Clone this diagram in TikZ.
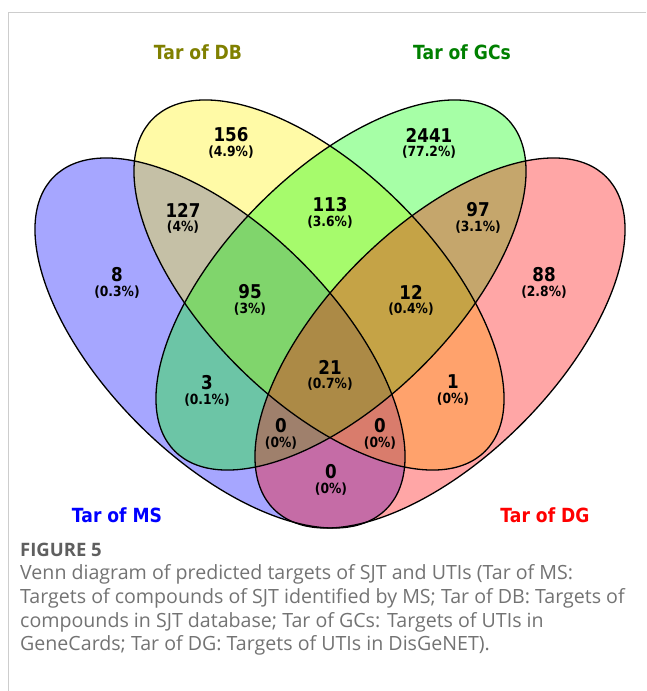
\documentclass[tikz,border=0pt]{standalone}
\usepackage{fontspec}
\setmainfont{Open Sans}
\newfontfamily\vennfont[FakeStretch=0.88]{DejaVu Sans}
\definecolor{dbcol}{RGB}{128,128,0}
\definecolor{gccol}{RGB}{0,128,0}
\definecolor{capgray}{RGB}{115,115,115}
\definecolor{figgray}{RGB}{95,95,95}
\definecolor{framegray}{RGB}{205,205,205}
\tikzset{
  vset/.style={fill opacity=0.35},
  vline/.style={draw=black, line width=1.3pt},
  msgeo/.style={shift={(220,-343)}, rotate=-45},
  dbgeo/.style={shift={(319,-285)}, rotate=-45},
  gcgeo/.style={shift={(341,-285)}, rotate=45},
  dggeo/.style={shift={(440,-343)}, rotate=45},
  catlab/.style={font=\vennfont\bfseries\fontsize{19.5}{20}\selectfont, inner sep=0pt},
  numst/.style={font=\vennfont\bfseries\fontsize{19}{19}\selectfont, inner sep=0pt},
  pctst/.style={font=\vennfont\bfseries\fontsize{14}{15}\selectfont, inner sep=0pt},
  capst/.style={font=\fontsize{19.6}{22}\selectfont, text=capgray, inner sep=0pt, anchor=base west},
}
\newcommand\reglab[5]{%
  \node[numst] (#1n) at (#2,{-#3}) {#4};
  \node[pctst] (#1p) at (#2,{-(#3+17)}) {#5};}
\begin{document}
\begin{tikzpicture}[x=1pt,y=1pt]
\useasboundingbox (0,0) rectangle (646,-691);
\fill[white] (0,0) rectangle (646,-691);
\draw[framegray, line width=1pt] (646,-12) -- (8,-12) -- (8,-691);

% fills
\fill[blue, vset, msgeo] (0,0) ellipse [x radius=235pt, y radius=115pt];
\fill[yellow, vset, dbgeo] (0,0) ellipse [x radius=235pt, y radius=115pt];
\fill[green, vset, gcgeo] (0,0) ellipse [x radius=235pt, y radius=115pt];
\fill[red, vset, dggeo] (0,0) ellipse [x radius=235pt, y radius=115pt];
% outlines
\draw[vline, msgeo] (0,0) ellipse [x radius=235pt, y radius=115pt];
\draw[vline, dbgeo] (0,0) ellipse [x radius=235pt, y radius=115pt];
\draw[vline, gcgeo] (0,0) ellipse [x radius=235pt, y radius=115pt];
\draw[vline, dggeo] (0,0) ellipse [x radius=235pt, y radius=115pt];

% category labels
\node[catlab, text=dbcol] (catdb) at (198,-52) {Tar of DB};
\node[catlab, text=gccol] (catgc) at (462,-52) {Tar of GCs};
\node[catlab, text=blue] (catms) at (117,-515) {Tar of MS};
\node[catlab, text=red] (catdg) at (545,-515) {Tar of DG};

% region counts
\reglab{ra}{231}{135}{156}{(4.9\%)}
\reglab{rb}{429}{135}{2441}{(77.2\%)}
\reglab{rc}{183}{210}{127}{(4\%)}
\reglab{rd}{330}{205}{113}{(3.6\%)}
\reglab{re}{478}{210}{97}{(3.1\%)}
\reglab{rf}{117}{275}{8}{(0.3\%)}
\reglab{rg}{250}{292}{95}{(3\%)}
\reglab{rh}{411}{292}{12}{(0.4\%)}
\reglab{ri}{544}{275}{88}{(2.8\%)}
\reglab{rj}{330}{367}{21}{(0.7\%)}
\reglab{rk}{207}{383}{3}{(0.1\%)}
\reglab{rl}{453}{382}{1}{(0\%)}
\reglab{rm}{281}{426}{0}{(0\%)}
\reglab{rn}{380}{426}{0}{(0\%)}
\reglab{ro}{331}{472}{0}{(0\%)}

% caption
\node[capst, font=\bfseries\fontsize{18.5}{20}\selectfont, text=figgray] (fig) at (20,-556) {FIGURE 5};
\node[capst] (cap1) at (20,-579) {Venn diagram of predicted targets of SJT and UTIs (Tar of MS:};
\node[capst] (cap2) at (20,-603) {Targets of compounds of SJT identified by MS; Tar of DB: Targets of};
\node[capst] (cap3) at (20,-627) {compounds in SJT database; Tar of GCs: Targets of UTIs in};
\node[capst] (cap4) at (20,-650) {GeneCards; Tar of DG: Targets of UTIs in DisGeNET).};
\end{tikzpicture}
\end{document}
